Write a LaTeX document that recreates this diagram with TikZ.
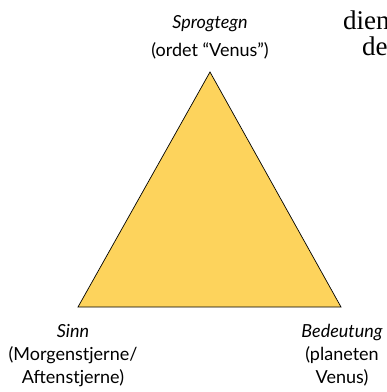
\documentclass[tikz,border=0pt]{standalone}
\usepackage{fontspec}
\setmainfont{Lato}
\newfontfamily\seriffont{Liberation Serif}
\definecolor{triyellow}{HTML}{FDD35C}
\begin{document}
\begin{tikzpicture}[x=1pt,y=1pt,
  lbl/.style={font=\fontsize{18}{23}\selectfont, align=center, inner sep=0pt, anchor=base},
  bg/.style={font=\seriffont\fontsize{27}{30}\selectfont, anchor=base west, inner sep=0pt}]
\clip (0,0) rectangle (387,-392);
\useasboundingbox (0,0) rectangle (387,-392);
\coordinate (apex) at (210,-72);
\coordinate (bl) at (78,-307);
\coordinate (br) at (341,-307);
\draw[fill=triyellow, line width=0.7pt, line join=miter] (apex) -- (bl) -- (br) -- cycle;
\node[lbl, font=\fontsize{18}{28}\selectfont] (top) at (210,-56) {\itshape Sprogtegn\\(ordet “Venus”)};
\node[lbl] (left) at (73,-383) {\itshape Sinn\\(Morgenstjerne/\\Aftenstjerne)};
\node[lbl] (right) at (342,-383) {\itshape Bedeutung\\(planeten\\Venus)};
\node[bg] (w1) at (343,-29) {dien};
\node[bg] (w2) at (362,-55) {de};
\end{tikzpicture}
\end{document}
